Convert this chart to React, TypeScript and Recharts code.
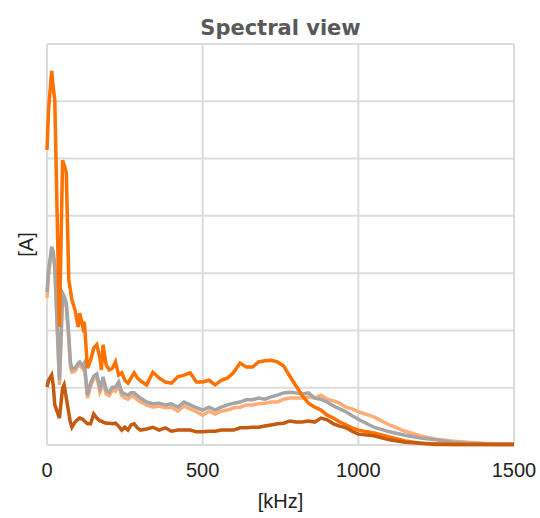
import React from 'react';
import { LineChart, Line, XAxis, YAxis, CartesianGrid } from 'recharts';

// frequency axis in kHz (denser sampling at the low end)
const freqKHz = [
  0, 5, 15, 20, 25, 40, 50, 55, 62, 70, 75, 80, 90, 100, 105, 115, 120, 130, 140, 150,
  160, 170, 175, 180, 190, 200, 210, 220, 230, 240, 250, 260, 270, 280, 290, 300,
  320, 340, 360, 380, 400, 420, 440, 460, 480, 500, 520, 540, 560, 580, 600, 620, 640,
  660, 680, 700, 720, 740, 760, 780, 800, 820, 840, 860, 880, 900, 920, 940, 960, 980,
  1000, 1050, 1100, 1150, 1200, 1250, 1300, 1350, 1400, 1450, 1500,
];

const orangeA = [
  5.15, 5.85, 6.53, 6.25, 6.02, 2.06, 4.97, 4.89, 4.75, 2.88, 2.71, 2.53, 2.36, 2.06, 2.3, 2.06, 2.15, 1.34, 1.48, 1.69,
  1.75, 1.52, 1.31, 1.75, 1.4, 1.31, 1.34, 1.45, 1.22, 1.26, 1.13, 1.08, 1.17, 1.26, 1.17, 1.12,
  1.05, 1.27, 1.17, 1.1, 1.08, 1.19, 1.22, 1.26, 1.1, 1.1, 1.13, 1.05, 1.13, 1.17, 1.27, 1.43, 1.36,
  1.36, 1.45, 1.47, 1.48, 1.45, 1.38, 1.2, 1.03, 0.86, 0.73, 0.66, 0.61, 0.52, 0.47, 0.4, 0.35, 0.3,
  0.26, 0.21, 0.14, 0.07, 0.03, 0.02, 0.01, 0.01, 0.01, 0.01, 0.01,
];

const grayA = [
  2.67, 3.05, 3.46, 3.37, 3.14, 1.13, 2.65, 2.6, 2.48, 1.92, 1.45, 1.33, 1.34, 1.43, 1.45, 1.38, 1.43, 0.87, 1.08, 1.2,
  1.24, 0.99, 1.05, 1.19, 0.96, 0.92, 1.01, 1.01, 1.1, 0.92, 0.89, 0.87, 0.91, 0.91, 0.86, 0.82,
  0.75, 0.72, 0.73, 0.7, 0.72, 0.66, 0.75, 0.7, 0.65, 0.61, 0.66, 0.61, 0.66, 0.7, 0.73, 0.75, 0.79,
  0.79, 0.82, 0.8, 0.84, 0.87, 0.91, 0.92, 0.91, 0.89, 0.91, 0.82, 0.8, 0.75, 0.68, 0.63, 0.58, 0.51,
  0.45, 0.31, 0.23, 0.17, 0.12, 0.09, 0.05, 0.03, 0.02, 0.01, 0.01,
];

const peachA = [
  2.57, 2.97, 3.4, 3.32, 3.09, 1.05, 2.58, 2.53, 2.41, 1.83, 1.38, 1.27, 1.29, 1.38, 1.4, 1.33, 1.38, 0.82, 1.03, 1.15,
  1.19, 0.92, 0.98, 1.12, 0.89, 0.86, 0.96, 0.94, 1.03, 0.86, 0.82, 0.8, 0.86, 0.84, 0.79, 0.75,
  0.7, 0.66, 0.68, 0.65, 0.66, 0.59, 0.68, 0.63, 0.58, 0.52, 0.59, 0.54, 0.59, 0.61, 0.65, 0.66, 0.7,
  0.7, 0.72, 0.73, 0.75, 0.75, 0.8, 0.82, 0.82, 0.82, 0.84, 0.82, 0.87, 0.8, 0.77, 0.73, 0.66, 0.63,
  0.58, 0.49, 0.35, 0.24, 0.16, 0.1, 0.07, 0.05, 0.03, 0.02, 0.02,
];

const brownA = [
  1.01, 1.13, 1.22, 1.05, 0.7, 0.47, 0.99, 1.05, 0.82, 0.56, 0.4, 0.31, 0.4, 0.45, 0.47, 0.45, 0.42, 0.37, 0.37, 0.54,
  0.47, 0.42, 0.42, 0.4, 0.38, 0.38, 0.37, 0.38, 0.33, 0.26, 0.31, 0.26, 0.35, 0.37, 0.3, 0.26,
  0.28, 0.31, 0.26, 0.3, 0.24, 0.26, 0.26, 0.26, 0.23, 0.23, 0.24, 0.24, 0.26, 0.26, 0.26, 0.3, 0.3,
  0.31, 0.31, 0.33, 0.35, 0.37, 0.38, 0.42, 0.4, 0.4, 0.42, 0.4, 0.47, 0.44, 0.37, 0.33, 0.3, 0.24,
  0.19, 0.16, 0.09, 0.05, 0.03, 0.01, 0.01, 0.01, 0.01, 0.01, 0.01,
];

const xTicks = [0, 500, 1000, 1500];
const yTicks = [0, 1, 2, 3, 4, 5, 6, 7];

const data = freqKHz.map((f, i) => ({
  f,
  orange: orangeA[i],
  gray: grayA[i],
  peach: peachA[i],
  brown: brownA[i],
}));

const axisFont = { fontFamily: '"Liberation Sans", Arial, sans-serif', fontSize: 20, fill: '#222' };

// y ticks are only wanted for the gridlines, no labels
const NoTick = () => <g />;

export default function App() {
  return (
    <div style={{ position: 'absolute', top: 0, left: 0, width: 540, height: 518 }}>
      <div
        style={{
          position: 'absolute',
          top: 18,
          left: 47,
          width: 467,
          textAlign: 'center',
          fontFamily: '"DejaVu Sans", sans-serif',
          fontWeight: 'bold',
          fontSize: 21,
          lineHeight: '21px',
          color: '#595959',
        }}
      >
        Spectral view
      </div>
      <LineChart width={540} height={518} data={data} margin={{ top: 44, right: 26, bottom: 0, left: 0 }}>
        <CartesianGrid stroke="#dcdcdc" strokeWidth={2} />
        <XAxis
          dataKey="f"
          type="number"
          domain={[0, 1500]}
          ticks={xTicks}
          axisLine={false}
          tickLine={false}
          tickMargin={12}
          height={73}
          tick={axisFont}
          label={{ value: '[kHz]', position: 'insideBottom', offset: 10, ...axisFont }}
        />
        <YAxis
          type="number"
          domain={[0, 7]}
          ticks={yTicks}
          width={47}
          axisLine={false}
          tickLine={false}
          tick={NoTick}
          label={{ value: '[A]', angle: -90, position: 'center', dx: 2, ...axisFont }}
        />
        <Line dataKey="peach" stroke="#FFAD78" strokeWidth={3.5} dot={false} isAnimationActive={false} />
        <Line dataKey="gray" stroke="#A5A5A5" strokeWidth={3.5} dot={false} isAnimationActive={false} />
        <Line dataKey="orange" stroke="#FF7200" strokeWidth={3.5} dot={false} isAnimationActive={false} />
        <Line dataKey="brown" stroke="#C55A11" strokeWidth={3.5} dot={false} isAnimationActive={false} />
      </LineChart>
    </div>
  );
}
